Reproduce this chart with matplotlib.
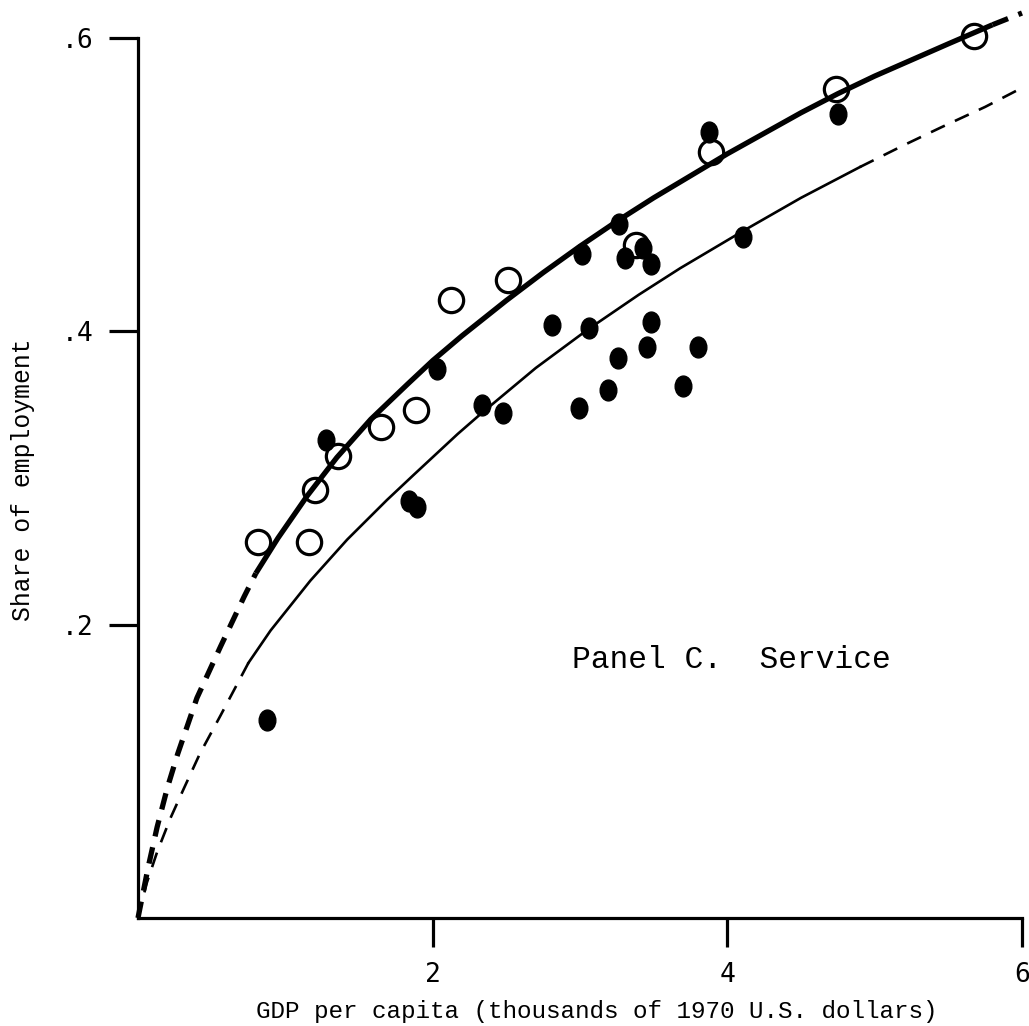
import matplotlib
matplotlib.use("Agg")
import matplotlib.pyplot as plt
from matplotlib.path import Path
from matplotlib.transforms import Affine2D

# ---- data ----
open_x = [0.815, 1.161, 1.201, 1.357, 1.649, 1.887, 2.125, 2.511, 3.380, 3.889, 4.738, 5.674]
open_y = [0.256, 0.256, 0.292, 0.315, 0.335, 0.346, 0.421, 0.435, 0.459, 0.522, 0.565, 0.601]

filled_x = [0.876, 1.276, 1.839, 1.894, 2.029, 2.335, 2.477, 2.810, 3.014, 3.061, 2.993, 3.190,
            3.258, 3.265, 3.305, 3.428, 3.482, 3.482, 3.455, 3.699, 3.801, 3.876, 4.106, 4.751]
filled_y = [0.135, 0.326, 0.284, 0.280, 0.374, 0.350, 0.344, 0.404, 0.453, 0.402, 0.348, 0.360,
            0.382, 0.473, 0.450, 0.457, 0.446, 0.406, 0.389, 0.363, 0.389, 0.536, 0.464, 0.548]

# upper (thick) fitted curve
thick_x = [0.0, 0.03, 0.07, 0.13, 0.2, 0.27, 0.4, 0.56, 0.72, 0.8, 0.95, 1.15, 1.35, 1.58,
           1.83, 2.0, 2.2, 2.5, 2.75, 3.0, 3.25, 3.5, 3.75, 4.0, 4.25, 4.5, 4.75, 5.0,
           5.25, 5.5, 5.8, 6.0]
thick_y = [0.0, 0.015, 0.035, 0.062, 0.089, 0.112, 0.150, 0.185, 0.219, 0.235, 0.259, 0.288,
           0.314, 0.340, 0.364, 0.380, 0.397, 0.421, 0.440, 0.458, 0.475, 0.491, 0.506, 0.521,
           0.535, 0.549, 0.562, 0.574, 0.585, 0.596, 0.609, 0.617]
thick_solid = (0.8, 5.8)

# lower (thin) fitted curve
thin_x = [0.0, 0.03, 0.06, 0.13, 0.22, 0.31, 0.42, 0.56, 0.75, 0.9, 1.17, 1.42, 1.69, 1.87,
          2.17, 2.33, 2.7, 3.05, 3.4, 3.68, 4.1, 4.5, 4.9, 5.2, 5.45, 5.75, 6.0]
thin_y = [0.0, 0.012, 0.024, 0.045, 0.068, 0.088, 0.112, 0.138, 0.174, 0.196, 0.230, 0.258,
          0.285, 0.302, 0.330, 0.344, 0.375, 0.401, 0.425, 0.443, 0.468, 0.491, 0.512, 0.527,
          0.539, 0.553, 0.566]
thin_solid = (0.75, 4.9)

x_ticks = [2, 4, 6]
x_ticklabels = ["2", "4", "6"]
y_ticks = [0.2, 0.4, 0.6]
y_ticklabels = [".2", ".4", ".6"]

# ---- figure ----
plt.rcParams['lines.scale_dashes'] = False
fig = plt.figure(figsize=(10.29, 10.26), dpi=100)
ax = fig.add_axes([0.1341, 0.1053, 0.9932 - 0.1341, 0.963 - 0.1053])
ax.set_xlim(0, 6)
ax.set_ylim(0, 0.6)


def split(xs, ys, lo, hi):
    a = [(x, y) for x, y in zip(xs, ys) if x <= lo]
    b = [(x, y) for x, y in zip(xs, ys) if lo <= x <= hi]
    c = [(x, y) for x, y in zip(xs, ys) if x >= hi]
    return [list(zip(*s)) for s in (a, b, c)]


t_a, t_b, t_c = split(thick_x, thick_y, *thick_solid)
ax.plot(t_b[0], t_b[1], color='black', lw=3.8, solid_capstyle='butt',
        solid_joinstyle='round', clip_on=False, zorder=3)
for seg in (t_a, t_c):
    ax.plot(seg[0], seg[1], color='black', lw=3.8, dashes=(12, 8), dash_capstyle='butt',
            clip_on=False, zorder=3)

n_a, n_b, n_c = split(thin_x, thin_y, *thin_solid)
ax.plot(n_b[0], n_b[1], color='black', lw=1.9, solid_joinstyle='round', clip_on=False, zorder=3)
for seg in (n_a, n_c):
    ax.plot(seg[0], seg[1], color='black', lw=1.9, dashes=(11, 8), dash_capstyle='butt',
            clip_on=False, zorder=3)

ellipse = Path.unit_circle().transformed(Affine2D().scale(0.8, 1.0))
ax.plot(filled_x, filled_y, linestyle='none', marker=ellipse, markersize=15,
        color='black', zorder=4, clip_on=False)
ax.plot(open_x, open_y, linestyle='none', marker='o', markersize=17.5,
        markerfacecolor='none', markeredgecolor='black', markeredgewidth=2.3,
        zorder=5, clip_on=False)

for s in ('top', 'right'):
    ax.spines[s].set_visible(False)
for s in ('left', 'bottom'):
    ax.spines[s].set_linewidth(2.3)

ax.set_xticks(x_ticks)
ax.set_xticklabels(x_ticklabels, family='DejaVu Sans Mono', fontsize=19)
ax.set_yticks(y_ticks)
ax.set_yticklabels(y_ticklabels, family='DejaVu Sans Mono', fontsize=19)
ax.tick_params(direction='out', length=21, width=2.3, pad=11)

ax.set_xlabel("GDP per capita (thousands of 1970 U.S. dollars)", family='Liberation Mono',
              fontsize=17.5)
ax.xaxis.set_label_coords(0.519, -0.093)
ax.set_ylabel("Share of employment", family='Liberation Mono', fontsize=17.8)
ax.yaxis.set_label_coords(-0.117, 0.498)

ax.text(2.946, 0.176, "Panel C.  Service", family='Liberation Mono', fontsize=22.5,
        va='center', ha='left')

fig.savefig("out.png", dpi=100)
